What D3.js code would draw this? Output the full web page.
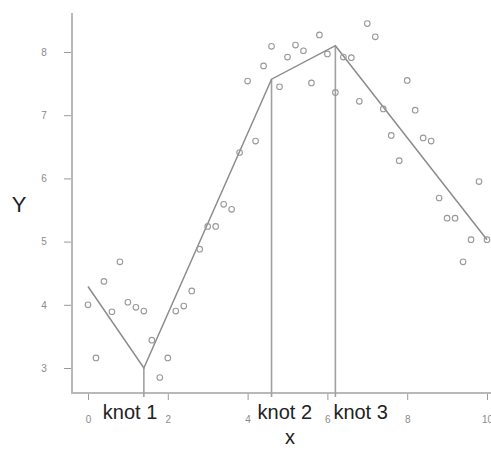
<!DOCTYPE html>
<html>
<head>
<meta charset="utf-8">
<script src="https://cdn.jsdelivr.net/npm/d3@7"></script>
<style>
  html, body { margin: 0; padding: 0; background: #fff; }
  svg { display: block; }
</style>
</head>
<body>
<div id="chart"></div>
<script>
'use strict';

// observed points
var xs = [0, 0.2, 0.4, 0.6, 0.8, 1.0, 1.2, 1.4, 1.6, 1.8,
          2.0, 2.2, 2.4, 2.6, 2.8, 3.0, 3.2, 3.4, 3.6, 3.8,
          4.0, 4.2, 4.4, 4.6, 4.8, 5.0, 5.2, 5.4, 5.6, 5.8,
          6.0, 6.2, 6.4, 6.6, 6.8, 7.0, 7.2, 7.4, 7.6, 7.8,
          8.0, 8.2, 8.4, 8.6, 8.8, 9.0, 9.2, 9.4, 9.6, 9.8, 10.0];
var ys = [4.00, 3.16, 4.37, 3.89, 4.68, 4.04, 3.96, 3.90, 3.44, 2.85,
          3.16, 3.90, 3.98, 4.22, 4.88, 5.24, 5.24, 5.59, 5.51, 6.41,
          7.54, 6.59, 7.78, 8.09, 7.45, 7.92, 8.11, 8.02, 7.51, 8.27,
          7.97, 7.36, 7.92, 7.91, 7.22, 8.45, 8.24, 7.10, 6.68, 6.28,
          7.55, 7.08, 6.64, 6.59, 5.69, 5.37, 5.37, 4.68, 5.03, 5.95, 5.03];

// piecewise linear fit (ends + knots)
var fitX = [0, 1.4, 4.6, 6.2, 10];
var fitY = [4.29, 3.00, 7.57, 8.10, 5.03];

var knots = [1.4, 4.6, 6.2];
var knotLabels = ['knot 1', 'knot 2', 'knot 3'];

var xTicks = [0, 2, 4, 6, 8, 10];
var yTicks = [3, 4, 5, 6, 7, 8];

var width = 491, height = 450;
var axisX = 72, axisY = 393, axisTop = 13;

var x = d3.scaleLinear().domain([0, 10]).range([88, 487]);
var y = d3.scaleLinear().domain([3, 8]).range([368, 52]);

var svg = d3.select('#chart').append('svg')
    .attr('width', width)
    .attr('height', height);

// axis lines (L shaped)
svg.append('line')
    .attr('x1', axisX).attr('x2', axisX)
    .attr('y1', axisTop).attr('y2', axisY)
    .attr('stroke', '#b8b8b8').attr('stroke-width', 2);
svg.append('line')
    .attr('x1', axisX - 1).attr('x2', width)
    .attr('y1', axisY).attr('y2', axisY)
    .attr('stroke', '#b8b8b8').attr('stroke-width', 2);

var yAxis = svg.append('g')
    .attr('transform', 'translate(' + (axisX - 1) + ',0)')
    .call(d3.axisLeft(y).tickValues(yTicks).tickSize(7).tickPadding(20).tickFormat(d3.format('d')));
var xAxis = svg.append('g')
    .attr('transform', 'translate(0,' + (axisY + 1) + ')')
    .call(d3.axisBottom(x).tickValues(xTicks).tickSize(6).tickPadding(16).tickFormat(d3.format('d')));

[yAxis, xAxis].forEach(function(g){
  g.select('.domain').remove();
  g.selectAll('.tick line').attr('stroke', '#9a9a9a').attr('stroke-width', 1);
  g.selectAll('.tick text')
    .attr('fill', '#8a8a8a')
    .style('font', '10px "Liberation Sans", Arial, sans-serif');
});
yAxis.selectAll('.tick text').attr('text-anchor', 'middle');

// knot verticals
svg.append('g').selectAll('line')
  .data(knots)
  .join('line')
    .attr('x1', d => x(d)).attr('x2', d => x(d))
    .attr('y1', (d, i) => y(fitY[i + 1]))
    .attr('y2', axisY + 4)
    .attr('stroke', '#a0a0a0')
    .attr('stroke-width', 1.6);

// fitted line
var fit = fitX.map((d, i) => [d, fitY[i]]);
svg.append('path')
    .datum(fit)
    .attr('fill', 'none')
    .attr('stroke', '#8c8c8c')
    .attr('stroke-width', 1.5)
    .attr('d', d3.line().x(d => x(d[0])).y(d => y(d[1])));

// points
svg.append('g').selectAll('circle')
  .data(xs.map((d, i) => [d, ys[i]]))
  .join('circle')
    .attr('cx', d => x(d[0]))
    .attr('cy', d => y(d[1]))
    .attr('r', 2.8)
    .attr('fill', 'none')
    .attr('stroke', '#999')
    .attr('stroke-width', 1.1);

// knot labels
var labelOffset = [-41, -14, -2];
svg.append('g').selectAll('text')
  .data(knotLabels)
  .join('text')
    .attr('x', (d, i) => x(knots[i]) + labelOffset[i])
    .attr('y', 419)
    .attr('fill', '#222')
    .style('font', '20px "Liberation Sans", Arial, sans-serif')
    .text(d => d);

// axis titles
svg.append('text')
    .attr('x', 290).attr('y', 444)
    .attr('text-anchor', 'middle')
    .attr('fill', '#222')
    .style('font', '20px "Liberation Sans", Arial, sans-serif')
    .text('x');
svg.append('text')
    .attr('x', 19).attr('y', 212)
    .attr('text-anchor', 'middle')
    .attr('fill', '#1c1c2c')
    .style('font', '22px "Liberation Sans", Arial, sans-serif')
    .text('Y');
</script>
</body>
</html>
